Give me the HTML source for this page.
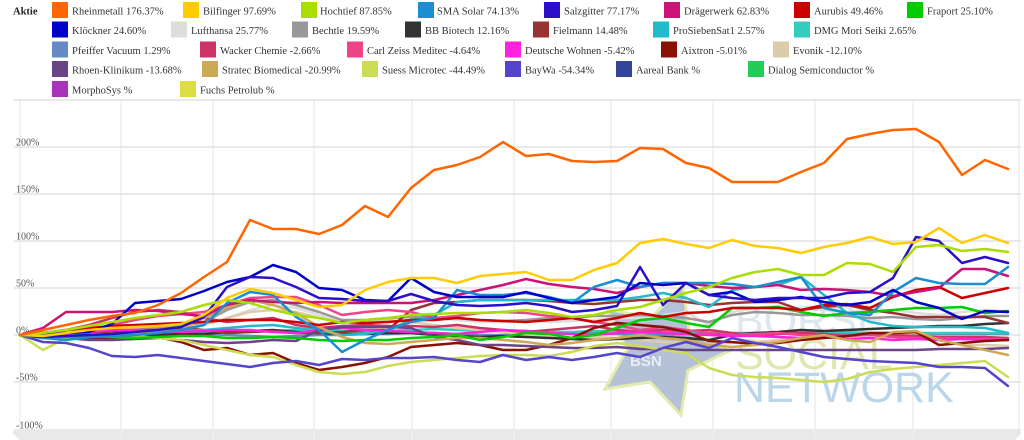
<!DOCTYPE html>
<html>
<head>
<meta charset="utf-8">
<style>
html,body{margin:0;padding:0;background:#fff;}
svg{display:block;}
.lg{font-family:"Liberation Serif",serif;font-size:10.5px;fill:#333;}
.ax{font-family:"Liberation Serif",serif;font-size:10px;fill:#555;}
.wm{font-family:"Liberation Sans",sans-serif;font-size:43px;}
polyline{fill:none;stroke-width:2.5;stroke-linejoin:round;stroke-linecap:round;}
</style>
</head>
<body>
<svg width="1024" height="440" viewBox="0 0 1024 440" xmlns="http://www.w3.org/2000/svg">
<rect x="0" y="0" width="1024" height="440" fill="#fff"/>

<!-- Legend -->
<text x="13" y="14.5" class="lg" style="font-weight:bold;fill:#222">Aktie</text>
<g>
<rect x="52" y="2" width="16" height="16" fill="#ff6600"/><text x="72" y="14.5" class="lg">Rheinmetall 176.37%</text>
<rect x="183" y="2" width="16" height="16" fill="#ffcc00"/><text x="203" y="14.5" class="lg">Bilfinger 97.69%</text>
<rect x="301" y="2" width="16" height="16" fill="#aadd00"/><text x="320" y="14.5" class="lg">Hochtief 87.85%</text>
<rect x="418" y="2" width="16" height="16" fill="#1a8fd0"/><text x="437" y="14.5" class="lg">SMA Solar 74.13%</text>
<rect x="544" y="2" width="16" height="16" fill="#2a10c8"/><text x="564" y="14.5" class="lg">Salzgitter 77.17%</text>
<rect x="664" y="2" width="16" height="16" fill="#cc1177"/><text x="684" y="14.5" class="lg">Drägerwerk 62.83%</text>
<rect x="794" y="2" width="16" height="16" fill="#cc0000"/><text x="814" y="14.5" class="lg">Aurubis 49.46%</text>
<rect x="907" y="2" width="16" height="16" fill="#00cc00"/><text x="927" y="14.5" class="lg">Fraport 25.10%</text>

<rect x="52" y="21.5" width="16" height="16" fill="#0000cc"/><text x="72" y="34" class="lg">Klöckner 24.60%</text>
<rect x="171" y="21.5" width="16" height="16" fill="#dddddd"/><text x="191" y="34" class="lg">Lufthansa 25.77%</text>
<rect x="292" y="21.5" width="16" height="16" fill="#999999"/><text x="312" y="34" class="lg">Bechtle 19.59%</text>
<rect x="405" y="21.5" width="16" height="16" fill="#333333"/><text x="425" y="34" class="lg">BB Biotech 12.16%</text>
<rect x="533" y="21.5" width="16" height="16" fill="#993333"/><text x="553" y="34" class="lg">Fielmann 14.48%</text>
<rect x="653" y="21.5" width="16" height="16" fill="#22bbcc"/><text x="673" y="34" class="lg">ProSiebenSat1 2.57%</text>
<rect x="794" y="21.5" width="16" height="16" fill="#33ccc0"/><text x="814" y="34" class="lg">DMG Mori Seiki 2.65%</text>

<rect x="52" y="41.5" width="16" height="16" fill="#6688c4"/><text x="72" y="54" class="lg">Pfeiffer Vacuum 1.29%</text>
<rect x="200" y="41.5" width="16" height="16" fill="#cc3366"/><text x="220" y="54" class="lg">Wacker Chemie -2.66%</text>
<rect x="347" y="41.5" width="16" height="16" fill="#ee4488"/><text x="367" y="54" class="lg">Carl Zeiss Meditec -4.64%</text>
<rect x="505" y="41.5" width="16" height="16" fill="#ff22dd"/><text x="525" y="54" class="lg">Deutsche Wohnen -5.42%</text>
<rect x="661" y="41.5" width="16" height="16" fill="#881100"/><text x="681" y="54" class="lg">Aixtron -5.01%</text>
<rect x="773" y="41.5" width="16" height="16" fill="#ddccaa"/><text x="793" y="54" class="lg">Evonik -12.10%</text>

<rect x="52" y="61" width="16" height="16" fill="#6a4484"/><text x="72" y="73.5" class="lg">Rhoen-Klinikum -13.68%</text>
<rect x="202" y="61" width="16" height="16" fill="#ccaa55"/><text x="222" y="73.5" class="lg">Stratec Biomedical -20.99%</text>
<rect x="362" y="61" width="16" height="16" fill="#ccdd55"/><text x="382" y="73.5" class="lg">Suess Microtec -44.49%</text>
<rect x="505" y="61" width="16" height="16" fill="#5544cc"/><text x="525" y="73.5" class="lg">BayWa -54.34%</text>
<rect x="616" y="61" width="16" height="16" fill="#334499"/><text x="636" y="73.5" class="lg">Aareal Bank %</text>
<rect x="748" y="61" width="16" height="16" fill="#22cc55"/><text x="768" y="73.5" class="lg">Dialog Semiconductor %</text>

<rect x="52" y="81" width="16" height="16" fill="#aa33bb"/><text x="72" y="93.5" class="lg">MorphoSys %</text>
<rect x="180" y="81" width="16" height="16" fill="#dddd44"/><text x="200" y="93.5" class="lg">Fuchs Petrolub %</text>
</g>

<!-- Grid -->
<g stroke="#e6e6e6" stroke-width="1">
<line x1="20" y1="100" x2="20" y2="430"/>
<line x1="121" y1="100" x2="121" y2="430"/>
<line x1="213" y1="100" x2="213" y2="430"/>
<line x1="314" y1="100" x2="314" y2="430"/>
<line x1="412" y1="100" x2="412" y2="430"/>
<line x1="514" y1="100" x2="514" y2="430"/>
<line x1="611" y1="100" x2="611" y2="430"/>
<line x1="713" y1="100" x2="713" y2="430"/>
<line x1="815" y1="100" x2="815" y2="430"/>
<line x1="913" y1="100" x2="913" y2="430"/>
<line x1="1019" y1="100" x2="1019" y2="430"/>
</g>
<g stroke="#e2e2e2" stroke-width="1.5">
<line x1="14" y1="100" x2="1021" y2="100"/>
<line x1="14" y1="147" x2="1021" y2="147"/>
<line x1="14" y1="194" x2="1021" y2="194"/>
<line x1="14" y1="241" x2="1021" y2="241"/>
<line x1="14" y1="288" x2="1021" y2="288"/>
<line x1="14" y1="335" x2="1021" y2="335"/>
<line x1="14" y1="382" x2="1021" y2="382"/>
<line x1="14" y1="430" x2="1021" y2="430"/>
</g>

<!-- bottom band -->
<polygon points="13,431 1021,431 1021,434 1015,440 20,440 13,434" fill="#e9e9e9"/>
<g stroke="#f3f3f3" stroke-width="1">
<line x1="121" y1="431" x2="121" y2="440"/><line x1="213" y1="431" x2="213" y2="440"/>
<line x1="314" y1="431" x2="314" y2="440"/><line x1="412" y1="431" x2="412" y2="440"/>
<line x1="514" y1="431" x2="514" y2="440"/><line x1="611" y1="431" x2="611" y2="440"/>
<line x1="713" y1="431" x2="713" y2="440"/><line x1="815" y1="431" x2="815" y2="440"/>
<line x1="913" y1="431" x2="913" y2="440"/>
</g>

<!-- axis labels -->
<text x="16" y="145.5" class="ax">200%</text>
<text x="16" y="192.5" class="ax">150%</text>
<text x="16" y="239.5" class="ax">100%</text>
<text x="16" y="286.5" class="ax">50%</text>
<text x="16" y="333.5" class="ax">0%</text>
<text x="16" y="380.5" class="ax">-50%</text>
<text x="16" y="428.5" class="ax">-100%</text>

<!-- Watermark -->
<g>
<polygon points="729,351 688,370.5 681,415 650,382 605,389 627,349.4 606.7,309 651,317.5 683,285.7 689,330.5" fill="#b5c1d7" stroke="#e2ecae" stroke-width="3" stroke-linejoin="miter"/>
<text x="630" y="366" style="font-family:'Liberation Sans',sans-serif;font-size:15px;font-weight:bold;fill:#e8eef6">BSN</text>
<text x="735" y="335" class="wm" fill="#dde7f0">BÖRSE</text>
<text x="735" y="369" class="wm" fill="#dfe7ae">SOCIAL</text>
<text x="734" y="402" class="wm" fill="#bad6ea">NETWORK</text>
</g>

<!-- Series -->
<polyline stroke="#6688c4" points="20,335 43,336 66,336 89,335 112,334 135,334 158,333 181,333 204,334 227,335 250,336 273,337 296,336 319,335 342,335 365,334 388,334 411,333 434,333 457,334 480,335 503,335 526,334 549,334 572,333 594,333 617,334 640,335 663,335 686,334 709,334 732,334 755,333 778,333 801,333 824,334 847,334 870,334 893,334 916,334 939,334 962,334 985,334 1008,334"/>
<polyline stroke="#33ccc0" points="20,335 43,333 66,332 89,331 112,330 135,330 158,331 181,332 204,333 227,333 250,332 273,331 296,330 319,330 342,331 365,332 388,331 411,330 434,329 457,330 480,331 503,331 526,331 549,332 572,332 594,331 617,331 640,332 663,333 686,333 709,333 732,333 755,333 778,333 801,333 824,332 847,332 870,333 893,333 916,333 939,333 962,333 985,333 1008,333"/>
<polyline stroke="#dddddd" points="20,335 43,334 66,333 89,331 112,330 135,330 158,328 181,326 204,325 227,318 250,310 273,305 296,308 319,315 342,322 365,320 388,318 411,316 434,318 457,320 480,322 503,322 526,320 549,322 572,321 594,320 617,318 640,318 663,315 686,312 709,325 732,312 755,308 778,306 801,309 824,310 847,312 870,310 893,310 916,313 939,315 962,312 985,310 1008,311"/>
<polyline stroke="#ddccaa" points="20,335 43,334 66,332 89,330 112,328 135,327 158,328 181,330 204,325 227,318 250,312 273,310 296,312 319,318 342,322 365,322 388,320 411,322 434,325 457,328 480,330 503,332 526,335 549,337 572,338 594,337 617,338 640,340 663,342 686,343 709,344 732,343 755,342 778,340 801,338 824,337 847,336 870,333 893,334 916,333 939,340 962,345 985,345 1008,346"/>
<polyline stroke="#999999" points="20,335 43,334 66,333 89,332 112,331 135,330 158,328 181,326 204,322 227,310 250,302 273,300 296,305 319,312 342,320 365,320 388,318 411,317 434,318 457,318 480,320 503,321 526,320 549,318 572,318 594,316 617,316 640,315 663,316 686,318 709,322 732,315 755,312 778,313 801,315 824,315 847,316 870,318 893,317 916,319 939,320 962,318 985,316 1008,316"/>
<polyline stroke="#333333" points="20,335 43,336 66,337 89,338 112,337 135,336 158,335 181,334 204,334 227,332 250,331 273,330 296,332 319,333 342,334 365,334 388,333 411,333 434,335 457,336 480,337 503,336 526,337 549,338 572,339 594,340 617,339 640,338 663,337 686,338 709,340 732,335 755,333 778,332 801,330 824,331 847,330 870,329 893,328 916,327 939,326 962,326 985,324 1008,323"/>
<polyline stroke="#993333" points="20,335 43,333 66,333 89,332 112,332 135,330 158,330 181,328 204,330 227,333 250,332 273,331 296,333 319,333 342,332 365,330 388,330 411,310 434,303 457,302 480,300 503,300 526,300 549,301 572,303 594,304 617,302 640,300 663,300 686,302 709,305 732,303 755,302 778,302 801,310 824,307 847,305 870,310 893,313 916,317 939,317 962,317 985,317 1008,323"/>
<polyline stroke="#22bbcc" points="20,335 43,334 66,333 89,334 112,335 135,333 158,332 181,331 204,330 227,328 250,326 273,325 296,328 319,330 342,335 365,334 388,330 411,320 434,315 457,302 480,300 503,300 526,300 549,300 572,300 594,300 617,300 640,297 663,293 686,298 709,307 732,290 755,287 778,285 801,277 824,295 847,313 870,322 893,326 916,327 939,327 962,327 985,328 1008,333"/>
<polyline stroke="#cc3366" points="20,335 43,333 66,330 89,325 112,318 135,312 158,310 181,312 204,318 227,322 250,320 273,318 296,325 319,328 342,326 365,325 388,326 411,326 434,327 457,325 480,328 503,330 526,332 549,330 572,328 594,326 617,330 640,332 663,330 686,331 709,330 732,333 755,335 778,334 801,333 824,334 847,336 870,334 893,335 916,336 939,337 962,337 985,337 1008,338"/>
<polyline stroke="#ee4488" points="20,335 43,336 66,334 89,330 112,325 135,320 158,316 181,314 204,312 227,305 250,298 273,297 296,297 319,305 342,315 365,312 388,310 411,312 434,318 457,316 480,313 503,312 526,313 549,316 572,318 594,322 617,325 640,330 663,327 686,330 709,333 732,335 755,334 778,333 801,335 824,336 847,336 870,335 893,337 916,338 939,338 962,339 985,339 1008,339"/>
<polyline stroke="#ff22dd" points="20,335 43,334 66,333 89,332 112,330 135,330 158,331 181,332 204,331 227,330 250,330 273,332 296,333 319,330 342,328 365,330 388,331 411,332 434,333 457,334 480,332 503,330 526,331 549,333 572,334 594,335 617,333 640,332 663,333 686,334 709,335 732,336 755,336 778,337 801,338 824,337 847,339 870,338 893,340 916,339 939,340 962,339 985,340 1008,340"/>
<polyline stroke="#881100" points="20,335 43,336 66,338 89,339 112,338 135,337 158,337 181,342 204,350 227,348 250,355 273,353 296,363 319,370 342,367 365,363 388,357 411,347 434,345 457,343 480,345 503,350 526,350 549,345 572,338 594,328 617,323 640,325 663,327 686,332 709,341 732,342 755,344 778,343 801,340 824,338 847,336 870,333 893,333 916,332 939,345 962,343 985,341 1008,340"/>
<polyline stroke="#6a4484" points="20,335 43,337 66,338 89,340 112,340 135,339 158,338 181,340 204,342 227,343 250,342 273,340 296,341 319,330 342,327 365,327 388,327 411,328 434,337 457,340 480,345 503,345 526,346 549,347 572,348 594,348 617,347 640,349 663,349 686,350 709,350 732,350 755,350 778,350 801,350 824,350 847,350 870,350 893,350 916,350 939,349 962,349 985,349 1008,348"/>
<polyline stroke="#ccaa55" points="20,335 43,338 66,337 89,336 112,334 135,333 158,332 181,330 204,318 227,308 250,300 273,305 296,313 319,327 342,337 365,343 388,344 411,342 434,340 457,338 480,338 503,340 526,342 549,345 572,343 594,340 617,338 640,335 663,338 686,340 709,345 732,347 755,345 778,342 801,338 824,335 847,340 870,342 893,332 916,331 939,340 962,345 985,350 1008,355"/>
<polyline stroke="#ccdd55" points="20,335 43,350 66,338 89,335 112,334 135,336 158,338 181,340 204,345 227,350 250,355 273,357 296,365 319,372 342,374 365,372 388,366 411,362 434,360 457,358 480,356 503,355 526,355 549,356 572,352 594,346 617,343 640,346 663,350 686,353 709,368 732,375 755,377 778,378 801,380 824,382 847,379 870,372 893,369 916,367 939,365 962,363 985,361 1008,377"/>
<polyline stroke="#5544cc" points="20,335 43,342 66,343 89,348 112,356 135,357 158,355 181,358 204,361 227,364 250,367 273,363 296,361 319,365 342,359 365,360 388,358 411,358 434,357 457,360 480,362 503,355 526,360 549,357 572,360 594,357 617,353 640,357 663,348 686,342 709,348 732,338 755,343 778,347 801,352 824,357 847,359 870,361 893,362 916,363 939,367 962,367 985,368 1008,386"/>
<polyline stroke="#00cc00" points="20,335 43,336 66,337 89,336 112,337 135,338 158,337 181,336 204,336 227,338 250,338 273,337 296,338 319,340 342,341 365,340 388,340 411,338 434,337 457,335 480,340 503,337 526,333 549,334 572,338 594,335 617,328 640,320 663,318 686,323 709,327 732,308 755,308 778,307 801,312 824,316 847,313 870,312 893,310 916,308 939,308 962,307 985,313 1008,311"/>
<polyline stroke="#cc0000" points="20,335 43,333 66,330 89,328 112,326 135,325 158,324 181,323 204,322 227,320 250,320 273,320 296,322 319,325 342,322 365,323 388,322 411,320 434,320 457,318 480,320 503,321 526,322 549,320 572,318 594,322 617,318 640,313 663,317 686,313 709,312 732,308 755,308 778,308 801,310 824,305 847,304 870,308 893,297 916,290 939,287 962,298 985,293 1008,288"/>
<polyline stroke="#cc1177" points="20,335 43,328 66,312 89,312 112,312 135,310 158,311 181,314 204,316 227,305 250,300 273,302 296,303 319,302 342,303 365,303 388,303 411,303 434,300 457,295 480,290 503,285 526,279 549,284 572,287 594,289 617,293 640,287 663,283 686,283 709,286 732,288 755,287 778,285 801,290 824,289 847,290 870,292 893,296 916,292 939,288 962,269 985,269 1008,276"/>
<polyline stroke="#1a8fd0" points="20,335 43,338 66,340 89,337 112,336 135,335 158,333 181,330 204,325 227,303 250,292 273,295 296,317 319,330 342,352 365,340 388,330 411,322 434,318 457,290 480,295 503,295 526,293 549,297 572,303 594,287 617,280 640,287 663,283 686,283 709,283 732,284 755,287 778,282 801,277 824,308 847,313 870,315 893,292 916,278 939,283 962,284 985,284 1008,267"/>
<polyline stroke="#0000cc" points="20,335 43,333 66,333 89,332 112,324 135,303 158,301 181,299 204,291 227,282 250,277 273,265 296,272 319,288 342,290 365,300 388,301 411,278 434,292 457,297 480,297 503,297 526,292 549,298 572,303 594,300 617,297 640,283 663,285 686,283 709,295 732,292 755,302 778,300 801,297 824,302 847,305 870,302 893,290 916,302 939,308 962,319 985,311 1008,312"/>
<polyline stroke="#2a10c8" points="20,335 43,337 66,336 89,335 112,334 135,332 158,330 181,327 204,317 227,287 250,277 273,278 296,287 319,298 342,299 365,301 388,301 411,294 434,301 457,305 480,306 503,305 526,303 549,306 572,312 594,310 617,306 640,267 663,305 686,283 709,295 732,298 755,300 778,298 801,298 824,298 847,293 870,292 893,278 916,237 939,241 962,263 985,257 1008,263"/>
<polyline stroke="#aadd00" points="20,335 43,333 66,330 89,326 112,322 135,318 158,315 181,312 204,305 227,300 250,303 273,310 296,315 319,318 342,323 365,320 388,318 411,315 434,314 457,313 480,313 503,312 526,310 549,313 572,317 594,315 617,310 640,307 663,300 686,293 709,287 732,278 755,272 778,269 801,275 824,275 847,263 870,264 893,272 916,247 939,245 962,251 985,249 1008,252"/>
<polyline stroke="#ffcc00" points="20,335 43,336 66,333 89,330 112,328 135,327 158,326 181,324 204,315 227,298 250,289 273,293 296,300 319,307 342,305 365,290 388,282 411,278 434,278 457,283 480,276 503,274 526,272 549,280 572,280 594,270 617,263 640,243 663,239 686,244 709,248 732,240 755,246 778,248 801,253 824,247 847,243 870,237 893,244 916,242 939,228 962,243 985,235 1008,243"/>
<polyline stroke="#ff6600" points="20,335 43,330 66,325 89,320 112,316 135,313 158,305 181,293 204,277 227,262 250,220 273,229 296,229 319,234 342,225 365,206 388,217 411,188 434,170 457,165 480,157 503,142 526,156 549,154 572,161 594,162 617,161 640,148 663,149 686,163 709,168 732,182 755,182 778,182 801,172 824,163 847,139 870,134 893,130 916,129 939,142 962,175 985,160 1008,169"/>
</svg>
</body>
</html>
